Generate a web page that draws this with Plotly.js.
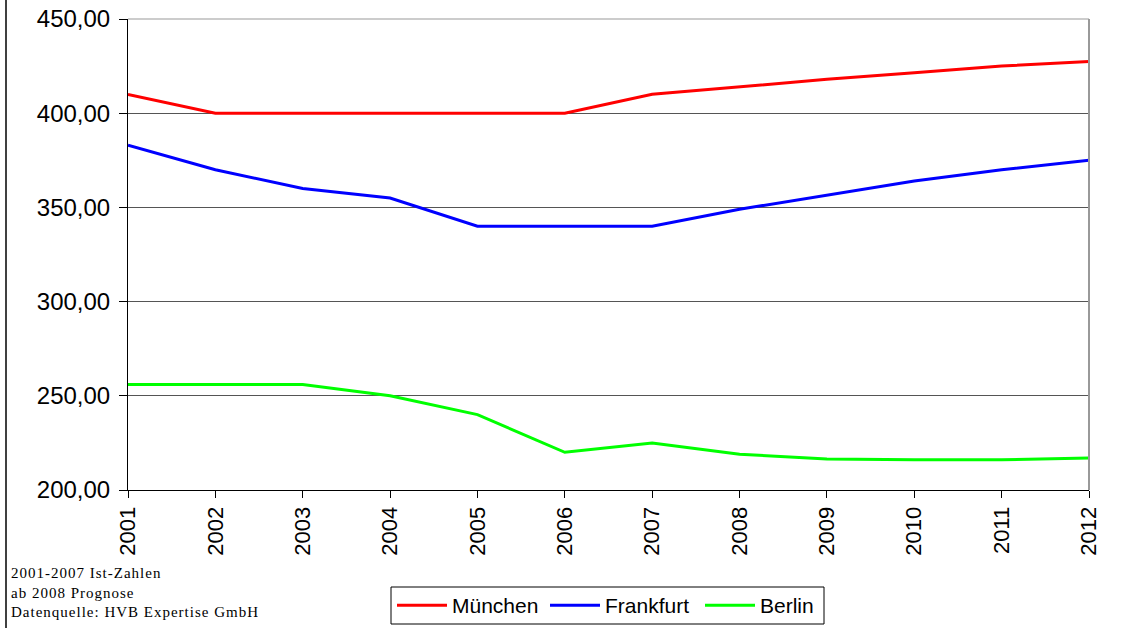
<!DOCTYPE html>
<html>
<head>
<meta charset="utf-8">
<script src="https://cdn.plot.ly/plotly-3.0.1.min.js"></script>
<style>
html,body{margin:0;padding:0;background:#fff;}
#chart{width:1122px;height:628px;}
.annotation-text{letter-spacing:1px;}
</style>
</head>
<body>
<div id="chart"></div>
<script>
const years = ["2001","2002","2003","2004","2005","2006","2007","2008","2009","2010","2011","2012"];
const muenchen = [410, 400, 400, 400, 400, 400, 410, 414, 418, 421.5, 425, 427.5];
const frankfurt = [383, 370, 360, 355, 340, 340, 340, 349, 356.5, 364, 370, 375];
const berlin = [256, 256, 256, 250, 240, 220, 225, 219, 216.5, 216, 216, 217];
const footnotes = ["2001-2007 Ist-Zahlen", "ab 2008 Prognose", "Datenquelle: HVB Expertise GmbH"];

const L = 128, R = 1089, T = 19, B = 490;
const W = R - L, H = B - T;
const px = x => (x - L) / W;
const py = y => (B - y) / H;

const traces = [
  {x: years, y: muenchen, name: "München", type: "scatter", mode: "lines", line: {color: "#ff0000", width: 3}, legend: "legend"},
  {x: years, y: frankfurt, name: "Frankfurt", type: "scatter", mode: "lines", line: {color: "#0000ff", width: 3}, legend: "legend"},
  {x: years, y: berlin, name: "Berlin", type: "scatter", mode: "lines", line: {color: "#00ff00", width: 3}, legend: "legend2"}
];

const annotations = footnotes.map((t, i) => ({
  text: t, xref: "paper", yref: "paper", x: px(9), y: py(573 + i * 19.5),
  xanchor: "left", yanchor: "middle", showarrow: false,
  font: {family: "Liberation Sans, Arial, sans-serif", size: 15, color: "#000"}
}));
annotations.forEach(a => a.font.family = "Liberation Serif, serif");

const legendFont = {family: "Liberation Sans, Arial, sans-serif", size: 21, color: "#000"};
const legendBase = {
  orientation: "h", xref: "container", yref: "container",
  xanchor: "left", yanchor: "middle", y: 1 - 605.5 / 628,
  borderwidth: 0, bgcolor: "rgba(0,0,0,0)", font: legendFont,
  tracegroupgap: 0, itemwidth: 50
};

const layout = {
  width: 1122, height: 628,
  margin: {l: L, r: 1122 - R, t: T, b: 628 - B, pad: 0, autoexpand: false},
  paper_bgcolor: "#fff", plot_bgcolor: "#fff",
  separators: ",.",
  showlegend: true,
  legend: Object.assign({}, legendBase, {x: 392 / 1122, entrywidth: 88}),
  legend2: Object.assign({}, legendBase, {x: 700 / 1122, entrywidth: 0}),
  xaxis: {
    type: "category", range: [0, 11], tickangle: -90, automargin: false,
    showline: true, linecolor: "#000", linewidth: 1,
    ticks: "outside", ticklen: 7, tickcolor: "#000",
    showgrid: false, zeroline: false,
    tickfont: {family: "Liberation Sans, Arial, sans-serif", size: 22, color: "#000"}
  },
  yaxis: {
    range: [200, 450], dtick: 50, tick0: 200, tickformat: ".2f", automargin: false,
    showline: true, linecolor: "#000", linewidth: 1,
    ticks: "outside", ticklen: 8, tickcolor: "#000", ticklabelstandoff: 4,
    showgrid: true, gridcolor: "#555", gridwidth: 1, zeroline: false,
    tickfont: {family: "Liberation Sans, Arial, sans-serif", size: 24, color: "#000"}
  },
  shapes: [
    {type: "line", xref: "paper", yref: "paper", x0: 1, x1: 1, y0: 0, y1: 1, line: {color: "#999", width: 2}},
    {type: "line", xref: "paper", yref: "paper", x0: 0, x1: 1, y0: 1, y1: 1, line: {color: "#999", width: 1}},
    {type: "line", xref: "paper", yref: "paper", x0: px(6), x1: px(6), y0: py(0), y1: py(628), line: {color: "#000", width: 1.5}},
    {type: "rect", xref: "paper", yref: "paper", x0: px(391), x1: px(824), y0: py(587), y1: py(624), line: {color: "#000", width: 1}, fillcolor: "rgba(0,0,0,0)"}
  ],
  annotations: annotations
};

Plotly.newPlot("chart", traces, layout, {displayModeBar: false, staticPlot: true});
</script>
</body>
</html>
